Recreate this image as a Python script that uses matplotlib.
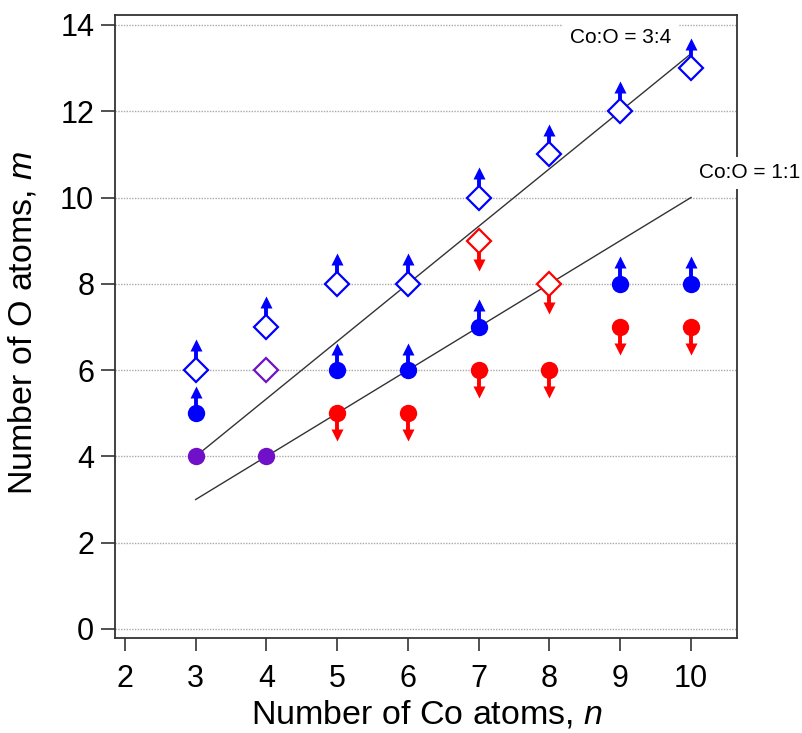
import matplotlib
matplotlib.use("Agg")
import matplotlib.pyplot as plt
import numpy as np

plt.rcParams['font.family'] = ['Liberation Sans', 'DejaVu Sans']
plt.rcParams['mathtext.fontset'] = 'custom'
plt.rcParams['mathtext.it'] = 'Liberation Sans:italic'

# Open diamonds (lower limits, blue)
dia_up_n = [3, 4, 5, 6, 7, 8, 9, 10]
dia_up_m = [6, 7, 8, 8, 10, 11, 12, 13]
# Open diamonds (upper limits, red)
dia_dn_n = [7, 8]
dia_dn_m = [9, 8]
# Open diamond (exact, purple)
dia_ex_n = [4]
dia_ex_m = [6]
# Filled circles (lower limits, blue)
cir_up_n = [3, 5, 6, 7, 9, 10]
cir_up_m = [5, 6, 6, 7, 8, 8]
# Filled circles (upper limits, red)
cir_dn_n = [5, 6, 7, 8, 9, 10]
cir_dn_m = [5, 5, 6, 6, 7, 7]
# Filled circles (exact, purple)
cir_ex_n = [3, 4]
cir_ex_m = [4, 4]
# Ratio lines
line_n = [3, 10]
ratio_34 = 4 / 3
ratio_11 = 1.0

BLUE = '#0000FF'
RED = '#FF0000'
PURPLE = '#7010C8'

fig = plt.figure(figsize=(8.03, 7.33), dpi=100)
ax = fig.add_axes([0.1432, 0.1296, 0.7746, 0.8499])

ax.set_xlim(1.86, 10.65)
ax.set_ylim(-0.21, 14.23)
ax.set_xticks(range(2, 11))
ax.set_yticks(range(0, 15, 2))
ax.yaxis.grid(True, linestyle=(0, (1, 1)), color='#aaaaaa', lw=1.0, zorder=0)
ax.set_axisbelow(True)

for s in ax.spines.values():
    s.set_color('#333333')
    s.set_linewidth(1.3)
ax.tick_params(axis='x', direction='out', length=9.5, width=1.2, pad=9, labelsize=22, color='#333333')
ax.tick_params(axis='y', direction='out', length=10, width=1.2, pad=5, labelsize=22, color='#333333')

fig.text(427 / 803, 1 - 715 / 733, 'Number of Co atoms, $\\mathit{n}$', fontsize=24.5,
         ha='center', va='center')
fig.text(23 / 803, 1 - 323 / 733, 'Number of O atoms, $\\mathit{m}$', fontsize=24.5,
         ha='center', va='center', rotation=90)

ln = np.array(line_n, dtype=float)
ax.plot(ln, ratio_34 * ln, color='#333333', lw=1.0, zorder=2)
ax.plot(ln, ratio_11 * ln, color='#333333', lw=1.0, zorder=2)

def arrows(ns, ms, color, sign, head_off):
    for n, m in zip(ns, ms):
        ax.plot([n, n], [m, m + sign * (head_off - 0.05)], color=color, lw=2.8,
                solid_capstyle='butt', zorder=3)
        ax.plot([n], [m + sign * head_off], '^' if sign > 0 else 'v', ms=8.5,
                color=color, mec='none', zorder=3)

arrows(dia_up_n, dia_up_m, BLUE, 1, 0.57)
arrows(dia_dn_n, dia_dn_m, RED, -1, 0.57)
arrows(cir_up_n, cir_up_m, BLUE, 1, 0.50)
arrows(cir_dn_n, cir_dn_m, RED, -1, 0.50)

ax.plot(dia_up_n, dia_up_m, 'D', ms=12.5, mfc='white', mec=BLUE, mew=1.6, ls='none', zorder=4)
ax.plot(dia_dn_n, dia_dn_m, 'D', ms=12.5, mfc='white', mec=RED, mew=1.6, ls='none', zorder=4)
ax.plot(dia_ex_n, dia_ex_m, 'D', ms=12.5, mfc='white', mec=PURPLE, mew=1.6, ls='none', zorder=4)
ax.plot(cir_up_n, cir_up_m, 'o', ms=12.5, color=BLUE, mec='none', ls='none', zorder=4)
ax.plot(cir_dn_n, cir_dn_m, 'o', ms=12.5, color=RED, mec='none', ls='none', zorder=4)
ax.plot(cir_ex_n, cir_ex_m, 'o', ms=12.5, color=PURPLE, mec='none', ls='none', zorder=4)

ax.text(9.01, 13.70, 'Co:O = 3:4', fontsize=15, ha='center', va='center', zorder=5,
        bbox=dict(facecolor='white', edgecolor='none', pad=5))
ax.text(10.83, 10.57, 'Co:O = 1:1', fontsize=15, ha='center', va='center', zorder=5,
        clip_on=False, bbox=dict(facecolor='white', edgecolor='none', pad=5))

fig.savefig('out.png', dpi=100)
